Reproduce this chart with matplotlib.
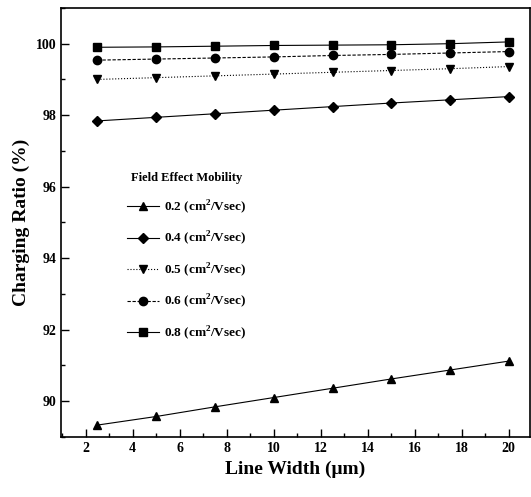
import numpy as np
import matplotlib
matplotlib.use('Agg')
import matplotlib.pyplot as plt
from matplotlib.ticker import MultipleLocator

plt.rcParams['font.family'] = 'Liberation Serif'
plt.rcParams['font.weight'] = 'bold'
plt.rcParams['mathtext.fontset'] = 'custom'
plt.rcParams['mathtext.rm'] = 'Liberation Serif:bold'

width = [2.5, 5, 7.5, 10, 12.5, 15, 17.5, 20]
mob_02 = [89.33, 89.57, 89.84, 90.10, 90.36, 90.62, 90.87, 91.12]
mob_04 = [97.84, 97.94, 98.04, 98.14, 98.24, 98.34, 98.43, 98.52]
mob_05 = [99.00, 99.05, 99.10, 99.15, 99.20, 99.25, 99.30, 99.36]
mob_06 = [99.54, 99.57, 99.60, 99.63, 99.67, 99.70, 99.74, 99.78]
mob_08 = [99.90, 99.91, 99.93, 99.95, 99.96, 99.97, 100.00, 100.05]

fig = plt.figure(figsize=(5.31, 4.97), dpi=100)
ax = fig.add_axes([0.115, 0.121, 0.883, 0.863])

unit = ' (cm$^2$/Vsec)'
ax.plot(width, mob_02, 'k-', marker='^', ms=6, lw=0.8, label='0.2' + unit)
ax.plot(width, mob_04, 'k-', marker='D', ms=5, lw=0.8, label='0.4' + unit)
ax.plot(width, mob_05, 'k:', marker='v', ms=6, lw=0.8, label='0.5' + unit)
ax.plot(width, mob_06, 'k--', marker='o', ms=6, lw=0.8, dashes=(3, 1.5), label='0.6' + unit)
ax.plot(width, mob_08, 'k-', marker='s', ms=6, lw=0.8, label='0.8' + unit)

ax.set_xlim(0.95, 20.9)
ax.set_ylim(89.0, 101.0)
ax.xaxis.set_major_locator(MultipleLocator(2))
ax.xaxis.set_minor_locator(MultipleLocator(1))
ax.yaxis.set_major_locator(MultipleLocator(2))
ax.yaxis.set_minor_locator(MultipleLocator(1))
ax.tick_params(which='both', direction='in', top=False, right=False, labelsize=10)
ax.tick_params(which='major', length=6, width=1)
ax.tick_params(which='minor', length=3, width=1)
for s in ax.spines.values():
    s.set_linewidth(1.2)

ax.set_xlabel('Line Width (\u03bcm)', fontsize=14, fontweight='bold')
ax.set_ylabel('Charging Ratio (%)', fontsize=14, fontweight='bold')

leg = ax.legend(loc='upper left', bbox_to_anchor=(0.115, 0.645), frameon=False,
                title='Field Effect Mobility', fontsize=9.5, title_fontsize=9,
                handlelength=2.4, labelspacing=1.05, handletextpad=0.4)
leg.get_title().set_fontweight('bold')

plt.savefig('out.png', dpi=100)
